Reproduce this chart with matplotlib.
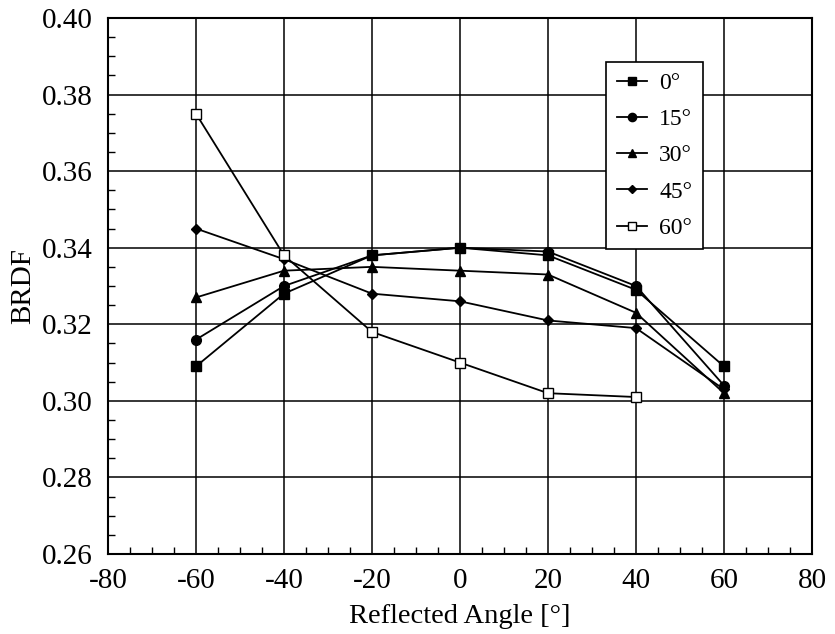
import numpy as np
import matplotlib
matplotlib.use("Agg")
import matplotlib.pyplot as plt
from matplotlib.ticker import MultipleLocator

plt.rcParams['font.family'] = ['Liberation Serif', 'DejaVu Serif']
plt.rcParams['axes.unicode_minus'] = False

# data
angles = [-60, -40, -20, 0, 20, 40, 60]
brdf_0 = [0.309, 0.328, 0.338, 0.340, 0.338, 0.329, 0.309]
brdf_15 = [0.316, 0.330, 0.338, 0.340, 0.339, 0.330, 0.304]
brdf_30 = [0.327, 0.334, 0.335, 0.334, 0.333, 0.323, 0.302]
brdf_45 = [0.345, 0.337, 0.328, 0.326, 0.321, 0.319, 0.303]
angles_60 = [-60, -40, -20, 0, 20, 40]
brdf_60 = [0.375, 0.338, 0.318, 0.310, 0.302, 0.301]

fig = plt.figure(figsize=(8.35, 6.34), dpi=100)
ax = fig.add_axes([108/835, 1 - 554/634, 704/835, 536/634])

ax.plot(angles, brdf_0, '-', color='black', lw=1.3, marker='s', ms=7, label='0°')
ax.plot(angles, brdf_15, '-', color='black', lw=1.3, marker='o', ms=7, label='15°')
ax.plot(angles, brdf_30, '-', color='black', lw=1.3, marker='^', ms=7, label='30°')
ax.plot(angles, brdf_45, '-', color='black', lw=1.3, marker='D', ms=5, label='45°')
ax.plot(angles_60, brdf_60, '-', color='black', lw=1.3, marker='s', ms=7,
        mfc='white', mec='black', label='60°')

ax.set_xlim(-80, 80)
ax.set_ylim(0.26, 0.40)
ax.xaxis.set_major_locator(MultipleLocator(20))
ax.xaxis.set_minor_locator(MultipleLocator(5))
ax.yaxis.set_major_locator(MultipleLocator(0.02))
ax.yaxis.set_minor_locator(MultipleLocator(0.005))
ax.yaxis.set_major_formatter(plt.FuncFormatter(lambda v, p: '%.2f' % v))
ax.grid(True, which='major', color='black', lw=1.1)
ax.tick_params(which='both', direction='in', top=False, right=False, labelsize=21)
ax.tick_params(which='major', length=0)
ax.tick_params(axis='y', which='major', pad=11)
ax.tick_params(axis='x', which='major', pad=10)
ax.tick_params(which='minor', length=5, width=1)
for s in ax.spines.values():
    s.set_linewidth(1.5)

ax.set_xlabel('Reflected Angle [°]', fontsize=20.5, labelpad=7)
ax.set_ylabel('BRDF', fontsize=21, labelpad=4)

leg = ax.legend(loc='upper left', bbox_to_anchor=((606 - 108) / 704, (554 - 62) / 536),
                borderaxespad=0, fontsize=17, frameon=True, fancybox=False,
                handlelength=1.3, labelspacing=0.62, borderpad=0.45,
                handletextpad=0.5, markerscale=0.85)
leg.get_frame().set_edgecolor('black')
leg.get_frame().set_linewidth(1.2)
leg.get_frame().set_alpha(1)

fig.savefig('out.png', dpi=100)
